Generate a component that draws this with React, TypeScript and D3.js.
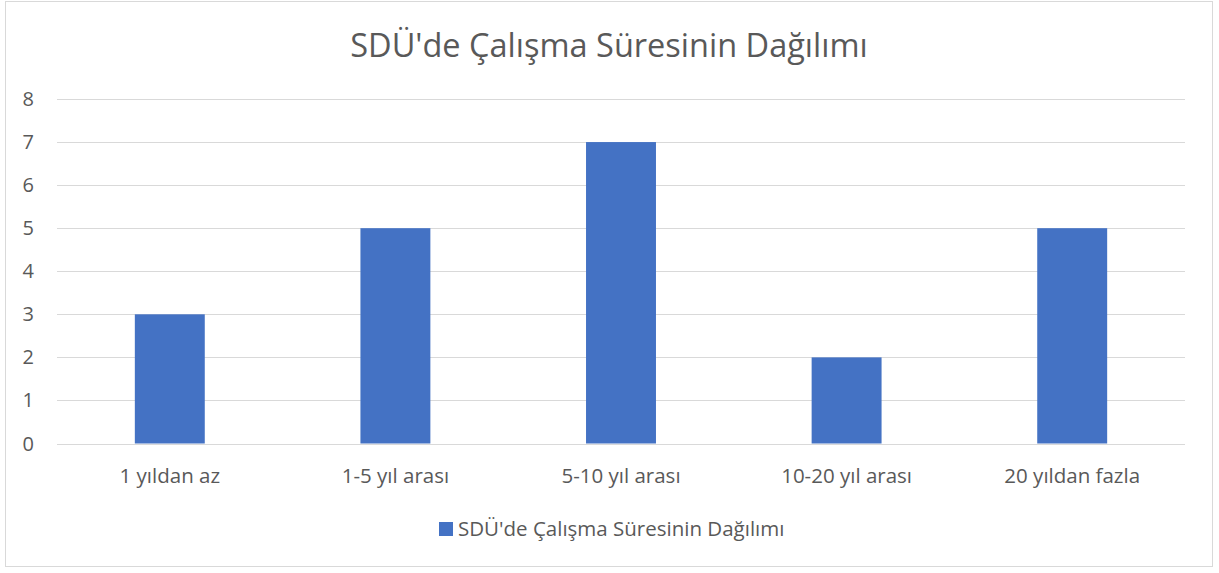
import React, { useRef, useEffect } from 'react';
import * as d3 from 'd3';

const categories = ['1 yıldan az', '1-5 yıl arası', '5-10 yıl arası', '10-20 yıl arası', '20 yıldan fazla'];
const values = [3, 5, 7, 2, 5];
const yTicks = [0, 1, 2, 3, 4, 5, 6, 7, 8];
const title = "SDÜ'de Çalışma Süresinin Dağılımı";
const seriesName = "SDÜ'de Çalışma Süresinin Dağılımı";

function App() {
  const svgRef = useRef<SVGSVGElement>(null);

  useEffect(() => {
    const svg = d3.select(svgRef.current);
    svg.selectAll('*').remove();

    const width = 1219;
    const margin = { top: 99, right: 34, left: 57 };
    const font = '"Open Sans", sans-serif';
    const textColor = '#595959';

    svg.append('rect')
      .attr('x', 5.5)
      .attr('y', 1.5)
      .attr('width', 1207)
      .attr('height', 565)
      .attr('fill', '#fff')
      .attr('stroke', '#d9d9d9');

    const x = d3.scaleBand()
      .domain(categories)
      .range([margin.left, width - margin.right])
      .paddingInner(0.69)
      .paddingOuter(0.345);

    const y = d3.scaleLinear()
      .domain([0, 8])
      .range([443.5, margin.top]);

    svg.append('g')
      .selectAll('line')
      .data(yTicks)
      .join('line')
      .attr('x1', margin.left)
      .attr('x2', width - margin.right)
      .attr('y1', d => Math.round(y(d)) + 0.5)
      .attr('y2', d => Math.round(y(d)) + 0.5)
      .attr('stroke', '#d9d9d9')
      .attr('stroke-width', 1);

    svg.append('g')
      .selectAll('text')
      .data(yTicks)
      .join('text')
      .attr('x', 34)
      .attr('y', d => y(d) + 7)
      .attr('text-anchor', 'end')
      .attr('font-family', font)
      .attr('font-size', '20px')
      .attr('fill', textColor)
      .text(d => d);

    svg.append('g')
      .selectAll('rect')
      .data(values)
      .join('rect')
      .attr('x', (d, i) => x(categories[i])!)
      .attr('y', d => y(d))
      .attr('width', x.bandwidth())
      .attr('height', d => y(0) - y(d))
      .attr('fill', '#4472c4');

    svg.append('g')
      .selectAll('text')
      .data(categories)
      .join('text')
      .attr('x', d => x(d)! + x.bandwidth() / 2)
      .attr('y', 483)
      .attr('text-anchor', 'middle')
      .attr('font-family', font)
      .attr('font-size', '20.5px')
      .attr('fill', textColor)
      .text(d => d);

    svg.append('text')
      .attr('x', 609)
      .attr('y', 57)
      .attr('text-anchor', 'middle')
      .attr('font-family', font)
      .attr('font-size', '32.5px')
      .attr('fill', textColor)
      .text(title);

    svg.append('rect')
      .attr('x', 439)
      .attr('y', 522)
      .attr('width', 14)
      .attr('height', 14)
      .attr('fill', '#4472c4');

    svg.append('text')
      .attr('x', 458)
      .attr('y', 536)
      .attr('font-family', font)
      .attr('font-size', '20.5px')
      .attr('fill', textColor)
      .text(seriesName);
  }, []);

  return <svg ref={svgRef} width={1219} height={573} style={{ position: 'absolute', left: 0, top: 0 }}></svg>;
}

export default App;
